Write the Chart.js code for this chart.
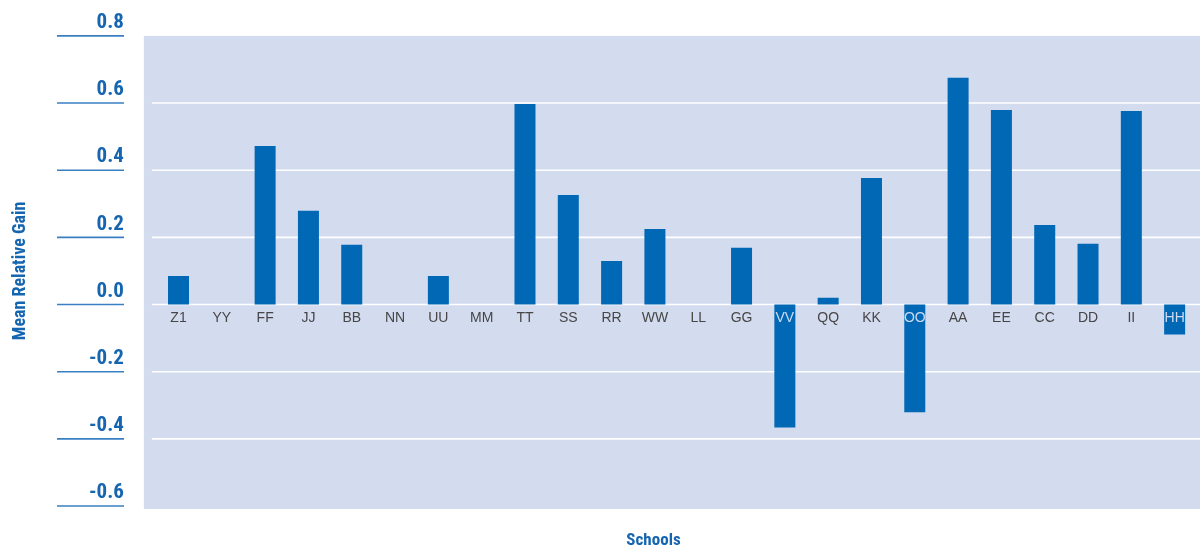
<!DOCTYPE html>
<html><head><meta charset="utf-8">
<script src="https://cdn.jsdelivr.net/npm/chart.js@4.4.1/dist/chart.umd.min.js"></script>
<style>html,body{margin:0;padding:0;background:#fff;overflow:hidden}#wrap{width:1200px;height:548px}</style>
</head><body><div id="wrap"><canvas id="c" width="1200" height="548"></canvas></div>
<script>
const categories = ['Z1','YY','FF','JJ','BB','NN','UU','MM','TT','SS','RR','WW','LL','GG','VV','QQ','KK','OO','AA','EE','CC','DD','II','HH'];
const values = [0.085, null, 0.472, 0.279, 0.178, null, 0.085, null, 0.597, 0.326, 0.130, 0.225, null, 0.169, -0.366, 0.020, 0.377, -0.321, 0.675, 0.579, 0.237, 0.181, 0.576, -0.089];
const yMin = -0.6, yMax = 0.8, yStep = 0.2;
const yAxisTitle = 'Mean Relative Gain';
const xAxisTitle = 'Schools';

const BLUE = '#0168b5';
const TEXTBLUE = '#1565b0';
const BG = '#d3dbef';
const COND = '"Roboto Condensed","Liberation Sans",Arial,sans-serif';

const decor = {
  id: 'decor',
  beforeDraw(chart) {
    const {ctx, chartArea: a, scales: {y}} = chart;
    const top = y.getPixelForValue(yMax), bot = y.getPixelForValue(yMin) + 3;
    ctx.save();
    ctx.fillStyle = BG;
    ctx.fillRect(a.left - 13, top, chart.width - (a.left - 13), bot - top);
    ctx.strokeStyle = '#ffffff';
    ctx.lineWidth = 1.6;
    y.ticks.forEach(t => {
      if (Math.abs(t.value - yMax) < 1e-6 || Math.abs(t.value - yMin) < 1e-6) return;
      const py = y.getPixelForValue(t.value);
      ctx.beginPath(); ctx.moveTo(a.left - 5, py); ctx.lineTo(chart.width, py); ctx.stroke();
    });
    ctx.restore();
  },
  afterDraw(chart) {
    const {ctx, scales: {y}} = chart;
    ctx.save();
    ctx.strokeStyle = '#3a7fc2';
    ctx.lineWidth = 1.6;
    y.ticks.forEach(t => {
      const py = y.getPixelForValue(t.value);
      ctx.beginPath(); ctx.moveTo(57, py); ctx.lineTo(124, py); ctx.stroke();
    });
    ctx.fillStyle = TEXTBLUE;
    ctx.font = 'bold 17px ' + COND;
    ctx.textAlign = 'center';
    ctx.textBaseline = 'middle';
    ctx.fillText(xAxisTitle, 653.5, 541);
    ctx.restore();
  }
};

new Chart(document.getElementById('c'), {
  type: 'bar',
  data: {
    labels: categories,
    datasets: [{ data: values, backgroundColor: BLUE, borderWidth: 0, categoryPercentage: 1, barPercentage: 0.485 }]
  },
  options: {
    responsive: false,
    animation: false,
    devicePixelRatio: 1,
    layout: { padding: { left: 0, right: 3.7, top: 35.9, bottom: 42 } },
    plugins: { legend: { display: false }, tooltip: { enabled: false } },
    scales: {
      x: {
        position: { y: 0 },
        offset: true,
        grid: { display: false, drawTicks: false },
        border: { display: false },
        afterFit: s => { s.paddingLeft = 0; s.paddingRight = 0; },
        ticks: {
          z: 1,
          autoSkip: false, maxRotation: 0, padding: 5,
          font: { family: '"Liberation Sans",Arial,sans-serif', size: 14 },
          color: c => (values[c.index] !== null && values[c.index] < 0) ? '#cfdaf1' : '#464646'
        }
      },
      y: {
        min: yMin, max: yMax,
        afterFit: s => { s.width = 156.85; s.paddingTop = 0; s.paddingBottom = 0; },
        grid: { display: false, drawTicks: false },
        border: { display: false },
        ticks: {
          stepSize: yStep, padding: 33, labelOffset: -13,
          color: TEXTBLUE,
          font: { family: COND, size: 21, weight: 'bold' },
          callback: v => Number(v).toFixed(1)
        },
        title: {
          display: true, text: yAxisTitle, color: TEXTBLUE,
          font: { family: COND, size: 18, weight: 'bold' },
          padding: { top: 10, bottom: 0 }
        }
      }
    }
  },
  plugins: [decor]
});
</script></body></html>
